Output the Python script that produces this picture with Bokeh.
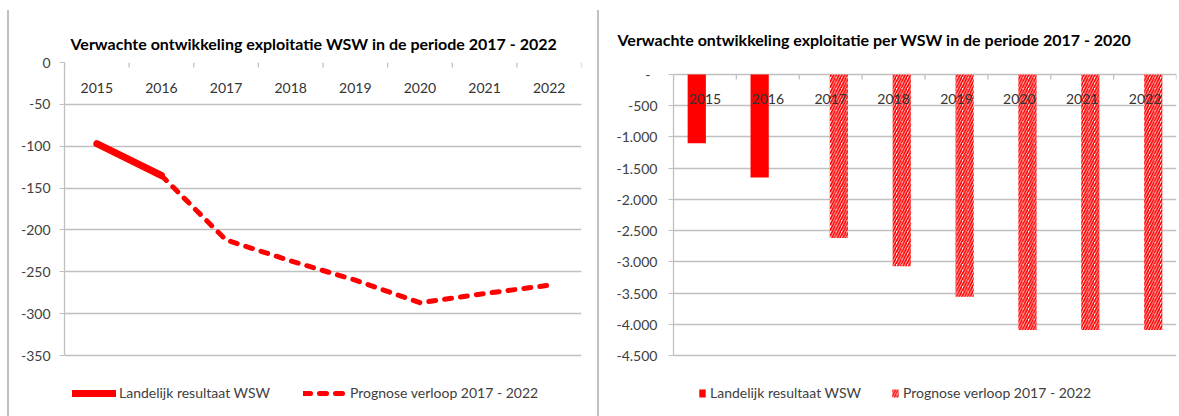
import math
from bokeh.plotting import figure
from bokeh.models import (Range1d, FactorRange, FixedTicker, Legend,
                          LegendItem, ColumnDataSource, Div)
from bokeh.layouts import row
from bokeh.transform import dodge
from bokeh.core.properties import value
from bokeh.embed import file_html
from bokeh.resources import INLINE

# ---------------- data ----------------
years = ["2015", "2016", "2017", "2018", "2019", "2020", "2021", "2022"]
legend_labels = ["Landelijk resultaat WSW", "Prognose verloop 2017 - 2022"]

# left chart (line)
line_title = "Verwachte ontwikkeling exploitatie WSW in de periode 2017 - 2022"
line_actual_years = ["2015", "2016"]
line_actual_values = [-97, -135]
line_forecast_years = ["2016", "2017", "2018", "2019", "2020", "2021", "2022"]
line_forecast_values = [-135, -212, -237, -260, -287, -276, -266]
left_ticks = [0, -50, -100, -150, -200, -250, -300, -350]
left_tick_labels = ["0", "-50", "-100", "-150", "-200", "-250", "-300", "-350"]

# right chart (bars)
bar_title = "Verwachte ontwikkeling exploitatie per WSW in de periode 2017 - 2020"
bar_actual_years = ["2015", "2016"]
bar_actual_values = [-1100, -1650]
bar_forecast_years = ["2017", "2018", "2019", "2020", "2021", "2022"]
bar_forecast_values = [-2620, -3070, -3560, -4090, -4090, -4090]
right_ticks = [0, -500, -1000, -1500, -2000, -2500, -3000, -3500, -4000, -4500]
right_tick_labels = ["-\u00a0\u00a0", "-500", "-1.000", "-1.500", "-2.000", "-2.500",
                     "-3.000", "-3.500", "-4.000", "-4.500"]

# ---------------- style / geometry (pixels) ----------------
FONT = "Lato"
RED = "#ff0000"
GRID = "#c0c0c0"
LABEL = "#404040"
FRAME_TOP, FRAME_BOTTOM = 62, 410      # invisible frame; legend lives in its lower strip
AXIS_BOTTOM = 355                      # where the lowest gridline sits


def y_range_for(ymin, ymax, top_px):
    """Range whose [ymin, ymax] span maps to [AXIS_BOTTOM, top_px] inside the frame."""
    upp = (ymax - ymin) / (AXIS_BOTTOM - top_px)
    return Range1d(ymin - (FRAME_BOTTOM - AXIS_BOTTOM) * upp,
                   ymax + (top_px - FRAME_TOP) * upp)


def base_fig(width, yr, ticks, labels, bl, br, standoff):
    p = figure(width=width, height=416, x_range=FactorRange(*years), y_range=yr,
               output_backend="svg", toolbar_location=None, x_axis_location=None,
               min_border_left=bl, min_border_right=br, min_border_top=FRAME_TOP,
               min_border_bottom=416 - FRAME_BOTTOM)
    p.outline_line_color = None
    p.background_fill_color = "white"
    p.border_fill_color = "white"
    t = FixedTicker(ticks=ticks)
    p.yaxis.ticker = t
    p.ygrid.ticker = t
    p.yaxis.bounds = (min(ticks), max(ticks))
    p.yaxis.major_label_overrides = dict(zip(ticks, labels))
    p.yaxis.axis_line_color = GRID
    p.yaxis.axis_line_width = 1.3
    p.yaxis.major_tick_line_color = GRID
    p.yaxis.major_tick_out = 5
    p.yaxis.major_tick_in = 0
    p.yaxis.minor_tick_line_color = None
    p.yaxis.major_label_standoff = standoff
    p.yaxis.major_label_text_font = FONT
    p.yaxis.major_label_text_font_size = "14px"
    p.yaxis.major_label_text_color = LABEL
    p.ygrid.grid_line_color = GRID
    p.ygrid.grid_line_width = 1.3
    p.xgrid.visible = False
    # category boundary ticks on the zero line
    src = ColumnDataSource(dict(x=years, y=[0] * len(years)))
    p.ray(x=dodge("x", -0.5, range=p.x_range), y="y", source=src, length=5,
          length_units="screen", angle=-math.pi / 2, line_color=GRID, line_width=1.3)
    p.ray(x=dodge("x", 0.5, range=p.x_range), y="y",
          source=ColumnDataSource(dict(x=years[-1:], y=[0])), length=5,
          length_units="screen", angle=-math.pi / 2, line_color=GRID, line_width=1.3)
    p.title.text_font = FONT
    p.title.text_font_size = "16px"
    p.title.text_font_style = "bold"
    p.title.text_color = "black"
    p.title.align = "left"
    return p


def year_labels(p, offset):
    p.text(x=years, y=[0] * len(years), text=years, y_offset=offset,
           text_align="center", text_baseline="middle", text_font=value(FONT),
           text_font_size="14px", text_color="#333333")


def make_legend(renderers, x, gw, gh, standoff, spacing):
    return Legend(items=[LegendItem(label=legend_labels[i], renderers=[r])
                         for i, r in enumerate(renderers)],
                  orientation="horizontal", location=(x, 9), glyph_width=gw,
                  glyph_height=gh, label_standoff=standoff, spacing=spacing,
                  padding=0, margin=0, border_line_color=None,
                  background_fill_alpha=0, label_text_font=FONT,
                  label_text_font_size="14px", label_text_color=LABEL,
                  label_height=16)


# ---------------- left: line chart ----------------
left = base_fig(588, y_range_for(-350, 0, 62), left_ticks, left_tick_labels, 55, 16, 9)
left.title.text = line_title
left.title.offset = 6
left.title.standoff = 20
year_labels(left, 25)

r_solid = left.line(line_actual_years, line_actual_values, line_color=RED, line_width=7,
                    line_cap="round", line_join="round")
r_dash = left.line(line_forecast_years, line_forecast_values, line_color=RED, line_width=5,
                   line_dash="7 9", line_cap="round", line_join="round")
left.add_layout(make_legend([r_solid, r_dash], 8, 44, 16, 3, 33), "center")

# ---------------- right: bar chart ----------------
right = base_fig(580, y_range_for(-4500, 0, 74), right_ticks, right_tick_labels,
                 74, 3, 11)
right.title.text = bar_title
right.title.offset = -56
right.title.standoff = 27

src_a = ColumnDataSource(dict(x=bar_actual_years, v=bar_actual_values))
src_f = ColumnDataSource(dict(x=bar_forecast_years, v=bar_forecast_values))
r_bar_a = right.vbar(x=dodge("x", -0.13, range=right.x_range), width=0.29, top=0,
                     bottom="v", source=src_a, fill_color=RED, line_color=None)
r_bar_f = right.vbar(x=dodge("x", 0.13, range=right.x_range), width=0.29, top=0,
                     bottom="v", source=src_f, fill_color="white", line_color=None,
                     hatch_pattern="/", hatch_color=RED, hatch_weight=1.8, hatch_scale=5.5)
year_labels(right, 24)
right.add_layout(make_legend([r_bar_a, r_bar_f], 25, 8, 10, 4, 30), "center")

# ---------------- layout ----------------
spacer = Div(text="", width=7, height=416, margin=0)
border1 = Div(text="", width=2, height=406, margin=(10, 0, 0, 0),
              styles={"background-color": GRID})
border2 = Div(text="", width=2, height=406, margin=(10, 0, 0, 0),
              styles={"background-color": GRID})
layout = row(spacer, border1, left, border2, right)

open("out.html", "w").write(file_html(layout, INLINE))
